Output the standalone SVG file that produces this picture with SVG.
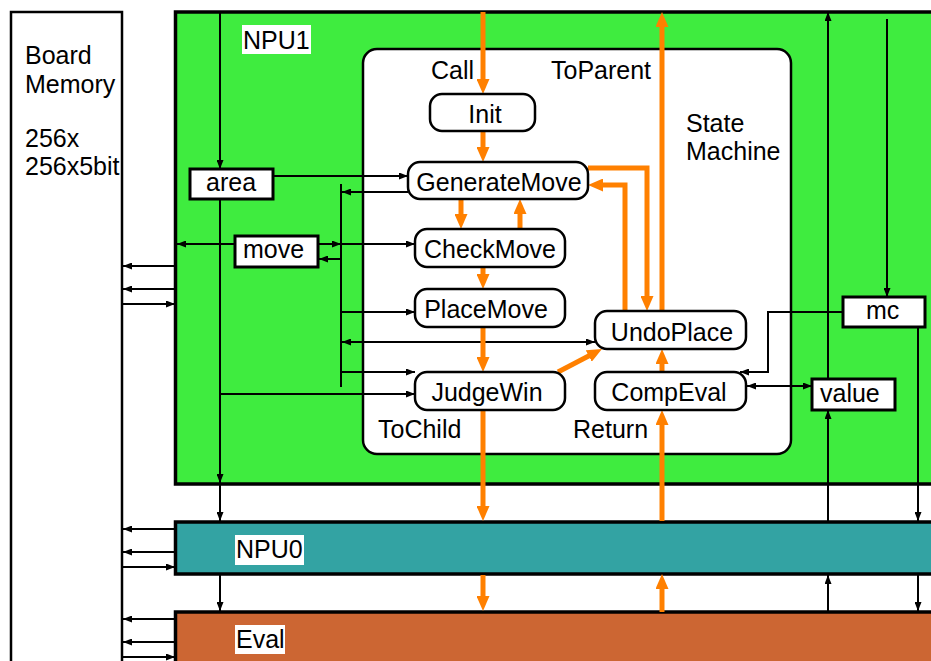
<svg xmlns="http://www.w3.org/2000/svg" width="931" height="661" viewBox="0 0 931 661">
  <defs>
    <style>
      text { font-family: "Liberation Sans", Arial, sans-serif; font-size: 25px; fill: #000; }
      .mid { text-anchor: middle; }
      .state { fill: #fff; stroke: #000; stroke-width: 2.5; }
      .reg { fill: #fff; stroke: #000; stroke-width: 3; }
      .block { stroke: #000; stroke-width: 3.5; }
      .tag { fill: #fff; }
      .wire { fill: none; stroke: #000; stroke-width: 2; }
      .flow { fill: none; stroke: #ff8000; stroke-width: 5; }
      .a { marker-end: url(#ah); }
      .aa { marker-start: url(#ah); marker-end: url(#ah); }
      .fa { marker-end: url(#oh); }
    </style>
    <!-- data arrowhead -->
    <marker id="ah" markerUnits="userSpaceOnUse" markerWidth="9" markerHeight="7" refX="9" refY="3.5" orient="auto-start-reverse">
      <path d="M0,0 L9,3.5 L0,7 z" fill="#000"/>
    </marker>
    <!-- control-flow arrowhead: base sits on the path end -->
    <marker id="oh" markerUnits="userSpaceOnUse" markerWidth="15" markerHeight="13" refX="1" refY="6.5" orient="auto">
      <path d="M0,0 L15,6.5 L0,13 z" fill="#ff8000"/>
    </marker>
  </defs>

  <!-- memory and processing blocks -->
  <g id="board-memory">
    <rect x="11" y="12" width="111" height="670" fill="#fff" stroke="#000" stroke-width="2.5"/>
    <text x="25" y="64">Board</text>
    <text x="25" y="93">Memory</text>
    <text x="25" y="147">256x</text>
    <text x="25" y="175">256x5bit</text>
  </g>

  <g id="npu1">
    <rect class="block" x="175.5" y="12" width="780" height="472" fill="#3fec3f"/>
    <rect class="tag" x="242" y="25" width="69" height="29"/>
    <text x="243" y="49">NPU1</text>
  </g>

  <g id="npu0">
    <rect class="block" x="175.5" y="522" width="780" height="52" fill="#33a3a3"/>
    <rect class="tag" x="235" y="535" width="69" height="30"/>
    <text x="236" y="558">NPU0</text>
  </g>

  <g id="eval">
    <rect class="block" x="175.5" y="612" width="780" height="70" fill="#cc6633"/>
    <rect class="tag" x="235" y="625" width="50" height="29"/>
    <text x="236" y="648">Eval</text>
  </g>

  <g id="state-machine">
    <rect x="363" y="49" width="428" height="405" rx="14" fill="#fff" stroke="#000" stroke-width="2.5"/>
    <text x="431" y="79">Call</text>
    <text x="551" y="79">ToParent</text>
    <text x="686" y="132">State</text>
    <text x="686" y="160">Machine</text>
    <text x="378" y="438">ToChild</text>
    <text x="573" y="438">Return</text>
  </g>

  <!-- connectors -->
  <g id="connectors">
    <!-- area / JudgeWin column -->
    <path class="wire a" d="M220,12 V169"/>
    <path class="wire a" d="M220,199 V483"/>
    <path class="wire a" d="M220,394 H415"/>
    <path class="wire a" d="M220,485 V521"/>
    <path class="wire a" d="M220,575 V611"/>
    <path class="wire a" d="M273,176 H408"/>

    <!-- move bus -->
    <path class="wire" d="M341,184 V387"/>
    <path class="wire a" d="M408,192 H342"/>
    <path class="wire a" d="M235,244 H177"/>
    <path class="wire a" d="M318,244 H341"/>
    <path class="wire a" d="M341,244 H415"/>
    <path class="wire a" d="M341,259 H319"/>
    <path class="wire a" d="M341,312 H415"/>
    <path class="wire aa" d="M342,342 H595"/>
    <path class="wire a" d="M341,372 H415"/>

    <!-- board memory ports -->
    <path class="wire a" d="M175,266 H123"/>
    <path class="wire a" d="M175,289 H123"/>
    <path class="wire a" d="M123,304 H175"/>
    <path class="wire a" d="M175,529 H123"/>
    <path class="wire a" d="M175,552 H123"/>
    <path class="wire a" d="M123,567 H175"/>
    <path class="wire a" d="M175,619 H123"/>
    <path class="wire a" d="M175,642 H123"/>
    <path class="wire a" d="M123,657 H175"/>

    <!-- value / mc columns -->
    <path class="wire a" d="M828,379 V12"/>
    <path class="wire a" d="M828,521 V410"/>
    <path class="wire a" d="M828,611 V575"/>
    <path class="wire a" d="M887,19 V297"/>
    <path class="wire a" d="M918,327 V521"/>
    <path class="wire a" d="M918,575 V611"/>
    <path class="wire a" d="M843,312 H768 V372 H740"/>
    <path class="wire aa" d="M747,386 H812"/>

    <!-- control flow -->
    <path class="flow fa" d="M483,12 V80"/>
    <path class="flow fa" d="M483,131 V148"/>
    <path class="flow fa" d="M461,199 V215"/>
    <path class="flow fa" d="M520,229 V213"/>
    <path class="flow fa" d="M483,267 V275"/>
    <path class="flow fa" d="M483,327 V358"/>
    <path class="flow fa" d="M558,372 L589.6,355.5"/>
    <path class="flow fa" d="M483,410 V507"/>
    <path class="flow fa" d="M483,575 V597"/>
    <path class="flow fa" d="M662,612 V588"/>
    <path class="flow fa" d="M662,521 V424"/>
    <path class="flow fa" d="M662,372 V363"/>
    <path class="flow fa" d="M662,311 V26"/>
    <path class="flow fa" d="M625,311 V185 H602"/>
    <path class="flow fa" d="M588,168 H647 V297"/>
  </g>

  <!-- states -->
  <g id="init"><rect class="state" x="430" y="94" width="105" height="37" rx="12"/><text class="mid" x="485" y="123">Init</text></g>
  <g id="generate-move"><rect class="state" x="408" y="162" width="180" height="37" rx="12"/><text class="mid" x="499" y="191">GenerateMove</text></g>
  <g id="check-move"><rect class="state" x="415" y="229" width="150" height="38" rx="12"/><text class="mid" x="490" y="258">CheckMove</text></g>
  <g id="place-move"><rect class="state" x="415" y="289" width="150" height="38" rx="12"/><text class="mid" x="486" y="318">PlaceMove</text></g>
  <g id="undo-place"><rect class="state" x="595" y="311" width="151" height="38" rx="12"/><text class="mid" x="672" y="341">UndoPlace</text></g>
  <g id="judge-win"><rect class="state" x="415" y="372" width="150" height="38" rx="12"/><text class="mid" x="487" y="401">JudgeWin</text></g>
  <g id="comp-eval"><rect class="state" x="595" y="372" width="151" height="38" rx="12"/><text class="mid" x="669" y="401">CompEval</text></g>

  <!-- registers -->
  <g id="area"><rect class="reg" x="190" y="169" width="83" height="30"/><text x="206" y="191">area</text></g>
  <g id="move"><rect class="reg" x="235" y="236" width="83" height="31"/><text x="243" y="258">move</text></g>
  <g id="mc"><rect class="reg" x="843" y="297" width="82" height="30"/><text x="866" y="319">mc</text></g>
  <g id="value"><rect class="reg" x="812" y="379" width="83" height="31"/><text x="820" y="402">value</text></g>
</svg>
